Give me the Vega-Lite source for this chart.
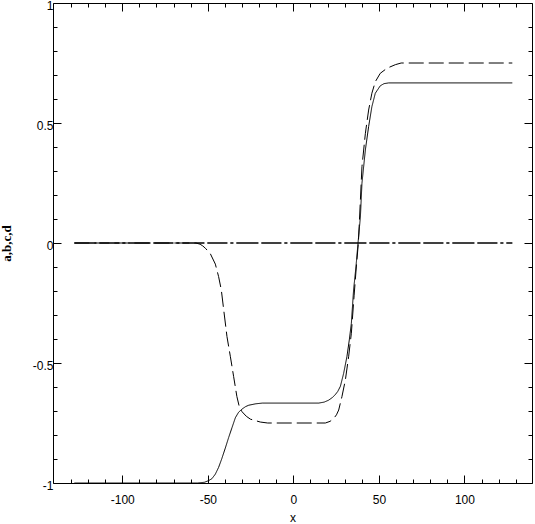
{
  "$schema": "https://vega.github.io/schema/vega-lite/v6.json",
  "width": 479,
  "height": 480,
  "autosize": "none",
  "padding": {"left": 53, "top": 3, "right": 3, "bottom": 41},
  "background": "white",
  "config": {
    "view": {"stroke": "black", "strokeWidth": 1},
    "axis": {
      "grid": false,
      "domain": false,
      "tickColor": "black",
      "tickWidth": 1,
      "labelColor": "black",
      "labelFont": "Liberation Sans",
      "labelFontSize": 12,
      "labelOverlap": false,
      "titleColor": "black",
      "titleFont": "Liberation Sans",
      "titleFontSize": 12,
      "titleFontWeight": "normal"
    }
  },
  "datasets": {
    "curves": [
      {"series": "c", "x": -128, "y": 0},
      {"series": "c", "x": 128, "y": 0},
      {"series": "d", "x": -128, "y": 0},
      {"series": "d", "x": 128, "y": 0},
      {"series": "a", "x": -128, "y": -1},
      {"series": "a", "x": -56, "y": -1},
      {"series": "a", "x": -52, "y": -0.997},
      {"series": "a", "x": -49.5, "y": -0.99},
      {"series": "a", "x": -47.6, "y": -0.982},
      {"series": "a", "x": -45.6, "y": -0.963},
      {"series": "a", "x": -43.7, "y": -0.935},
      {"series": "a", "x": -41.8, "y": -0.898},
      {"series": "a", "x": -39.8, "y": -0.855},
      {"series": "a", "x": -37.8, "y": -0.81},
      {"series": "a", "x": -35.9, "y": -0.77},
      {"series": "a", "x": -33.9, "y": -0.728},
      {"series": "a", "x": -32, "y": -0.705},
      {"series": "a", "x": -30, "y": -0.692},
      {"series": "a", "x": -28, "y": -0.682},
      {"series": "a", "x": -26.1, "y": -0.676},
      {"series": "a", "x": -22, "y": -0.67},
      {"series": "a", "x": -18, "y": -0.667},
      {"series": "a", "x": 14.8, "y": -0.667},
      {"series": "a", "x": 18, "y": -0.663},
      {"series": "a", "x": 20.6, "y": -0.655},
      {"series": "a", "x": 22.6, "y": -0.645},
      {"series": "a", "x": 24.5, "y": -0.632},
      {"series": "a", "x": 26, "y": -0.618},
      {"series": "a", "x": 27.5, "y": -0.597},
      {"series": "a", "x": 29.4, "y": -0.543},
      {"series": "a", "x": 31.3, "y": -0.474},
      {"series": "a", "x": 32.7, "y": -0.404},
      {"series": "a", "x": 33.9, "y": -0.335},
      {"series": "a", "x": 35.2, "y": -0.196},
      {"series": "a", "x": 36.6, "y": -0.099},
      {"series": "a", "x": 37.8, "y": 0},
      {"series": "a", "x": 39.2, "y": 0.11},
      {"series": "a", "x": 40.1, "y": 0.249},
      {"series": "a", "x": 42.1, "y": 0.388},
      {"series": "a", "x": 44, "y": 0.485},
      {"series": "a", "x": 45.9, "y": 0.568},
      {"series": "a", "x": 47.9, "y": 0.624},
      {"series": "a", "x": 50.8, "y": 0.655},
      {"series": "a", "x": 53, "y": 0.664},
      {"series": "a", "x": 55.7, "y": 0.667},
      {"series": "a", "x": 128, "y": 0.667},
      {"series": "b", "x": -128, "y": 0},
      {"series": "b", "x": -57, "y": 0},
      {"series": "b", "x": -54.5, "y": -0.005},
      {"series": "b", "x": -53, "y": -0.012},
      {"series": "b", "x": -51.4, "y": -0.022},
      {"series": "b", "x": -48.5, "y": -0.045},
      {"series": "b", "x": -45.6, "y": -0.088},
      {"series": "b", "x": -43.7, "y": -0.14},
      {"series": "b", "x": -42.1, "y": -0.196},
      {"series": "b", "x": -40.7, "y": -0.279},
      {"series": "b", "x": -38.8, "y": -0.39},
      {"series": "b", "x": -36.8, "y": -0.474},
      {"series": "b", "x": -34.9, "y": -0.557},
      {"series": "b", "x": -33, "y": -0.64},
      {"series": "b", "x": -31.5, "y": -0.685},
      {"series": "b", "x": -30, "y": -0.703},
      {"series": "b", "x": -27.5, "y": -0.722},
      {"series": "b", "x": -25.1, "y": -0.734},
      {"series": "b", "x": -19.3, "y": -0.746},
      {"series": "b", "x": -15, "y": -0.75},
      {"series": "b", "x": 18.7, "y": -0.75},
      {"series": "b", "x": 21.5, "y": -0.743},
      {"series": "b", "x": 23.6, "y": -0.731},
      {"series": "b", "x": 25.2, "y": -0.716},
      {"series": "b", "x": 26.5, "y": -0.696},
      {"series": "b", "x": 28.4, "y": -0.64},
      {"series": "b", "x": 30.4, "y": -0.571},
      {"series": "b", "x": 32.3, "y": -0.474},
      {"series": "b", "x": 33.9, "y": -0.376},
      {"series": "b", "x": 35.5, "y": -0.22},
      {"series": "b", "x": 36.8, "y": -0.1},
      {"series": "b", "x": 38, "y": 0},
      {"series": "b", "x": 39, "y": 0.15},
      {"series": "b", "x": 40.1, "y": 0.318},
      {"series": "b", "x": 42.1, "y": 0.457},
      {"series": "b", "x": 44, "y": 0.554},
      {"series": "b", "x": 45.9, "y": 0.624},
      {"series": "b", "x": 47.9, "y": 0.672},
      {"series": "b", "x": 50.8, "y": 0.707},
      {"series": "b", "x": 54.7, "y": 0.728},
      {"series": "b", "x": 59.6, "y": 0.743},
      {"series": "b", "x": 63, "y": 0.75},
      {"series": "b", "x": 128, "y": 0.75}
    ]
  },
  "data": {"name": "curves"},
  "layer": [
    {
      "mark": {"type": "line", "color": "black", "strokeWidth": 1, "clip": true},
      "encoding": {
        "x": {
          "field": "x", "type": "quantitative",
          "scale": {"domain": [-140.5, 139.5], "nice": false, "zero": false},
          "axis": {
            "orient": "bottom", "values": [-100, -50, 0, 50, 100],
            "tickSize": -8, "labelPadding": 19, "labelExpr": "datum.value + ''",
            "title": "x", "titlePadding": 7
          }
        },
        "y": {
          "field": "y", "type": "quantitative",
          "scale": {"domain": [-1, 1], "nice": false, "zero": false},
          "axis": {
            "orient": "left", "values": [-1, -0.5, 0, 0.5, 1],
            "tickSize": -8, "labelPadding": 8, "labelOffset": 2, "labelExpr": "datum.value + ''",
            "title": "a,b,c,d", "titleFont": "Liberation Serif", "titleFontSize": 13,
            "titleFontWeight": "bold", "titlePadding": 19
          }
        },
        "strokeDash": {
          "field": "series", "type": "nominal",
          "scale": {
            "domain": ["a", "b", "c", "d"],
            "range": [[1, 0], [15, 5], [22, 3, 20, 3, 3, 3], [22, 3, 20, 3, 3, 3]]
          },
          "legend": null
        },
        "order": {"field": "x", "type": "quantitative"}
      }
    },
    {
      "mark": {"type": "point", "opacity": 0},
      "encoding": {
        "x": {
          "field": "x", "type": "quantitative",
          "scale": {"domain": [-140.5, 139.5], "nice": false, "zero": false},
          "axis": {
            "orient": "bottom",
            "values": [-130, -120, -110, -100, -90, -80, -70, -60, -50, -40, -30, -20, -10, 0, 10, 20, 30, 40, 50, 60, 70, 80, 90, 100, 110, 120, 130],
            "tickSize": -4, "labels": false, "title": null
          }
        },
        "y": {
          "field": "y", "type": "quantitative",
          "scale": {"domain": [-1, 1], "nice": false, "zero": false},
          "axis": {
            "orient": "left",
            "values": [-0.9, -0.8, -0.7, -0.6, -0.5, -0.4, -0.3, -0.2, -0.1, 0, 0.1, 0.2, 0.3, 0.4, 0.5, 0.6, 0.7, 0.8, 0.9],
            "tickSize": -4, "labels": false, "title": null
          }
        }
      }
    },
    {
      "mark": {"type": "point", "opacity": 0},
      "encoding": {
        "x": {
          "field": "x", "type": "quantitative",
          "scale": {"domain": [-140.5, 139.5], "nice": false, "zero": false},
          "axis": {
            "orient": "top", "values": [-100, -50, 0, 50, 100],
            "tickSize": -8, "labels": false, "title": null
          }
        },
        "y": {
          "field": "y", "type": "quantitative",
          "scale": {"domain": [-1, 1], "nice": false, "zero": false},
          "axis": {
            "orient": "right", "values": [-1, -0.5, 0, 0.5, 1],
            "tickSize": -8, "labels": false, "title": null
          }
        }
      }
    },
    {
      "mark": {"type": "point", "opacity": 0},
      "encoding": {
        "x": {
          "field": "x", "type": "quantitative",
          "scale": {"domain": [-140.5, 139.5], "nice": false, "zero": false},
          "axis": {
            "orient": "top",
            "values": [-130, -120, -110, -100, -90, -80, -70, -60, -50, -40, -30, -20, -10, 0, 10, 20, 30, 40, 50, 60, 70, 80, 90, 100, 110, 120, 130],
            "tickSize": -4, "labels": false, "title": null
          }
        },
        "y": {
          "field": "y", "type": "quantitative",
          "scale": {"domain": [-1, 1], "nice": false, "zero": false},
          "axis": {
            "orient": "right",
            "values": [-0.9, -0.8, -0.7, -0.6, -0.5, -0.4, -0.3, -0.2, -0.1, 0, 0.1, 0.2, 0.3, 0.4, 0.5, 0.6, 0.7, 0.8, 0.9],
            "tickSize": -4, "labels": false, "title": null
          }
        }
      }
    }
  ],
  "resolve": {"scale": {"x": "independent", "y": "independent"}}
}
